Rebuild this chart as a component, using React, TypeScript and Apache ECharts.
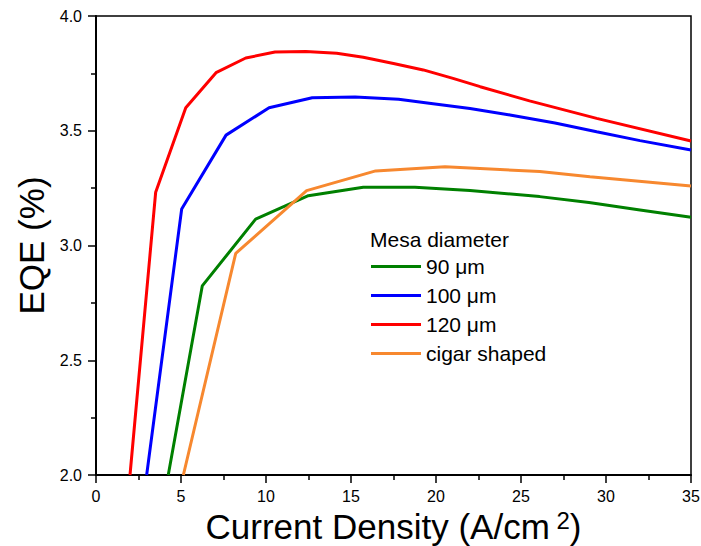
import React, { useEffect, useRef } from "react";
import * as echarts from "echarts";

const seriesNames = ["90 μm", "100 μm", "120 μm", "cigar shaped"];
const seriesColors = ["#008000", "#0000ff", "#ff0000", "#f7882f"];

const x90 = [4.25, 6.25, 9.39, 12.49, 15.72, 18.76, 22.0, 26.1, 29.0, 32.0, 35.0];
const y90 = [2.0, 2.824, 3.115, 3.217, 3.254, 3.254, 3.24, 3.213, 3.187, 3.155, 3.123];

const x100 = [2.98, 5.04, 7.65, 10.18, 12.72, 15.24, 17.8, 19.6, 22.0, 24.35, 27.0, 29.45, 32.0, 35.0];
const y100 = [2.0, 3.159, 3.481, 3.6, 3.644, 3.647, 3.637, 3.62, 3.597, 3.569, 3.534, 3.496, 3.457, 3.416];

const x120 = [2.0, 3.51, 5.28, 7.06, 8.81, 10.53, 12.34, 14.16, 15.72, 17.5, 19.25, 21.0, 22.6, 25.5, 29.45, 35.0];
const y120 = [2.0, 3.232, 3.6, 3.753, 3.817, 3.843, 3.845, 3.838, 3.82, 3.793, 3.765, 3.728, 3.692, 3.63, 3.554, 3.455];

const xCigar = [5.14, 8.22, 12.39, 16.45, 20.53, 26.1, 29.06, 35.0];
const yCigar = [2.0, 2.966, 3.239, 3.325, 3.343, 3.322, 3.3, 3.259];

const xs = [x90, x100, x120, xCigar];
const ys = [y90, y100, y120, yCigar];

const FONT = "'Liberation Sans', Arial, sans-serif";

export default function App() {
  const ref = useRef<HTMLDivElement>(null);
  useEffect(() => {
    if (!ref.current) return;
    const chart = echarts.init(ref.current, undefined, { renderer: "svg" });
    chart.setOption({
      animation: false,
      backgroundColor: "#ffffff",
      textStyle: { fontFamily: FONT },
      grid: {
        left: 96,
        top: 16,
        width: 595,
        height: 459,
        show: true,
        borderColor: "#000",
        borderWidth: 1.5,
        containLabel: false,
        outerBoundsMode: "none",
      },
      xAxis: {
        type: "value",
        min: 0,
        max: 35,
        interval: 5,
        name: "Current Density (A/cm{sup| 2})",
        nameLocation: "middle",
        nameGap: 25,
        nameTextStyle: {
          fontSize: 35,
          color: "#000",
          fontFamily: FONT,
          lineHeight: 36,
          rich: {
            sup: { fontSize: 24, lineHeight: 24, verticalAlign: "top", color: "#000", fontFamily: FONT },
          },
        },
        axisLine: { show: true, onZero: false, lineStyle: { color: "#000", width: 2 } },
        axisTick: { show: true, inside: false, length: 8, lineStyle: { color: "#000", width: 1.5 } },
        minorTick: { show: true, splitNumber: 2, length: 5, lineStyle: { color: "#000", width: 1.5 } },
        axisLabel: { fontSize: 16, color: "#000", margin: 13, fontFamily: FONT },
        splitLine: { show: false },
      },
      yAxis: {
        type: "value",
        min: 2,
        max: 4,
        interval: 0.5,
        name: "EQE (%)",
        nameLocation: "middle",
        nameGap: 46,
        nameTextStyle: { fontSize: 35, color: "#000", fontFamily: FONT },
        axisLine: { show: true, onZero: false, lineStyle: { color: "#000", width: 2 } },
        axisTick: { show: true, inside: false, length: 8, lineStyle: { color: "#000", width: 1.5 } },
        minorTick: { show: true, splitNumber: 2, length: 5, lineStyle: { color: "#000", width: 1.5 } },
        axisLabel: {
          fontSize: 16,
          color: "#000",
          margin: 14,
          fontFamily: FONT,
          formatter: (v: number) => v.toFixed(1),
        },
        splitLine: { show: false },
      },
      legend: {
        show: true,
        orient: "vertical",
        left: 366,
        top: 251,
        icon: "rect",
        itemWidth: 50,
        itemHeight: 3,
        itemGap: 8,
        textStyle: { fontSize: 21, color: "#000", fontFamily: FONT, lineHeight: 20 },
        data: seriesNames,
      },
      graphic: [
        {
          type: "text",
          left: 370,
          top: 229,
          style: { text: "Mesa diameter", fontSize: 21, fill: "#000", fontFamily: FONT },
        },
      ],
      series: seriesNames.map((name, i) => ({
        name,
        type: "line",
        symbol: "none",
        showSymbol: false,
        clip: true,
        color: seriesColors[i],
        lineStyle: { color: seriesColors[i], width: 3 },
        data: xs[i].map((x, j) => [x, ys[i][j]]),
      })),
    });
    return () => chart.dispose();
  }, []);
  return (
    <div
      ref={ref}
      style={{ position: "absolute", left: 0, top: 0, width: 701, height: 546 }}
    />
  );
}
